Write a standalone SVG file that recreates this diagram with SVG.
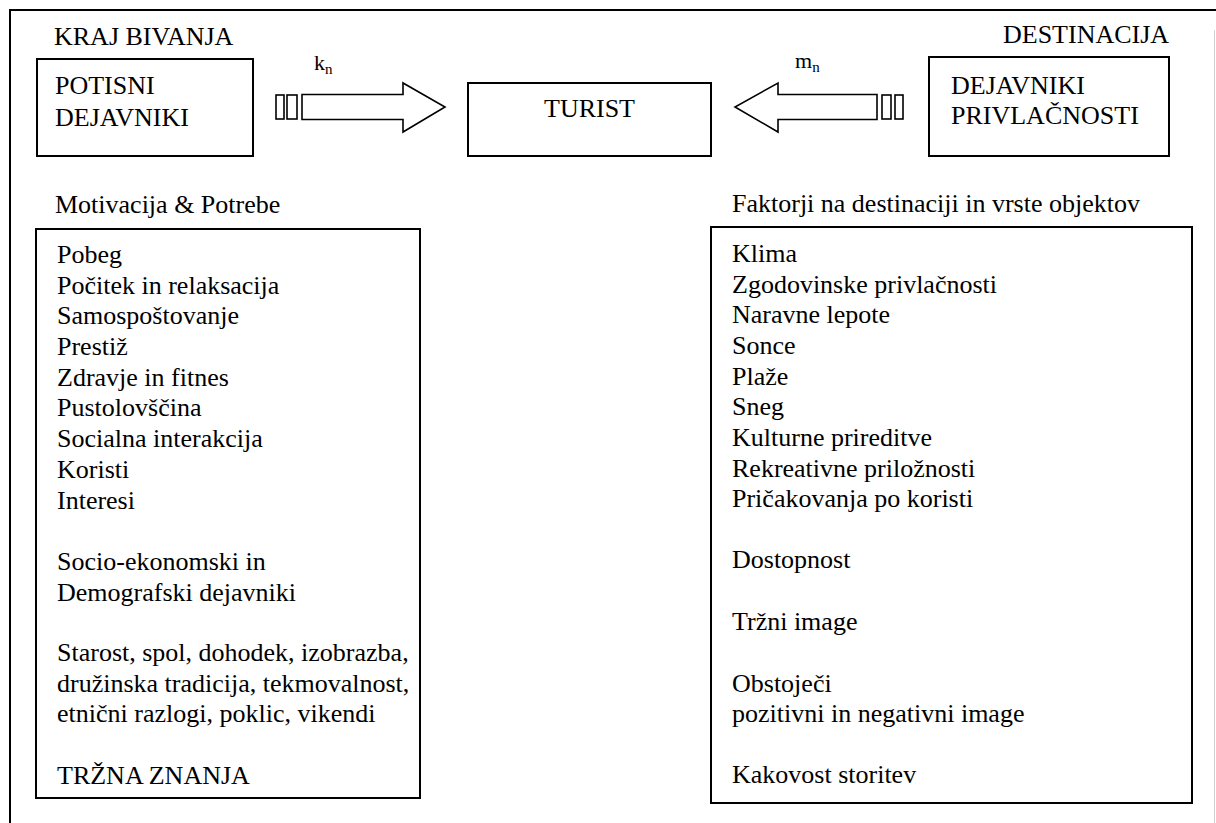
<svg xmlns="http://www.w3.org/2000/svg" width="1216" height="823" viewBox="0 0 1216 823" font-family="'Liberation Serif', 'Times New Roman', 'DejaVu Serif', serif">
  <style>
    text { font-family: "Liberation Serif", "Times New Roman", "DejaVu Serif", serif; font-size: 26px; fill: #000; }
    .box { fill: #fff; stroke: #000; stroke-width: 2; }
    .frame { fill: none; stroke: #000; stroke-width: 2; }
    .arrow { fill: #fff; stroke: #000; stroke-width: 1.6; stroke-linejoin: miter; }
    .sub { font-size: 15px; }
  </style>
  <rect x="0" y="0" width="1216" height="823" fill="#fff"/>

  <!-- outer frame: open on the right and bottom -->
  <path class="frame" d="M10,823 V10 H1216"/>
  <line x1="1214.5" y1="30" x2="1214.5" y2="823" stroke="#d0d0d0" stroke-width="1"/>

  <!-- headings -->
  <text x="54" y="45">KRAJ BIVANJA</text>
  <text x="1003" y="43">DESTINACIJA</text>

  <g id="push-factors">
    <rect class="box" x="37" y="59" width="216" height="97"/>
    <text x="55" y="94">POTISNI</text>
    <text x="55" y="126">DEJAVNIKI</text>
  </g>

  <g id="tourist">
    <rect class="box" x="468" y="83" width="243" height="73"/>
    <text x="589.5" y="117" text-anchor="middle">TURIST</text>
  </g>

  <g id="pull-factors">
    <rect class="box" x="929" y="57" width="240" height="99"/>
    <text x="951" y="94">DEJAVNIKI</text>
    <text x="951" y="124">PRIVLAČNOSTI</text>
  </g>

  <g id="connectors">
    <!-- push arrow k_n -->
    <rect class="arrow" x="276" y="95" width="8" height="24"/>
    <rect class="arrow" x="287" y="95" width="10" height="24"/>
    <path class="arrow" d="M302,94.5 H403 V83 L445,107 L403,132 V119.5 H302 Z"/>
    <text x="314" y="70" style="font-size:22px">k<tspan class="sub" dy="4">n</tspan></text>

    <!-- pull arrow m_n -->
    <path class="arrow" d="M877,94.5 H778 V83 L735,107 L778,132 V119.5 H877 Z"/>
    <rect class="arrow" x="882" y="95" width="9" height="24"/>
    <rect class="arrow" x="895" y="95" width="8" height="24"/>
    <text x="795" y="68" style="font-size:22px">m<tspan class="sub" dy="4">n</tspan></text>
  </g>

  <g id="motivation">
    <text x="55" y="213">Motivacija &amp; Potrebe</text>
    <rect class="box" x="36" y="229" width="384" height="569"/>
    <text x="57" y="263">Pobeg</text>
    <text x="57" y="294">Počitek in relaksacija</text>
    <text x="57" y="324">Samospoštovanje</text>
    <text x="57" y="355">Prestiž</text>
    <text x="57" y="386">Zdravje in fitnes</text>
    <text x="57" y="416">Pustolovščina</text>
    <text x="57" y="447">Socialna interakcija</text>
    <text x="57" y="478">Koristi</text>
    <text x="57" y="509">Interesi</text>
    <text x="57" y="570">Socio-ekonomski in</text>
    <text x="57" y="601">Demografski dejavniki</text>
    <text x="57" y="661">Starost, spol, dohodek, izobrazba,</text>
    <text x="57" y="692">družinska tradicija, tekmovalnost,</text>
    <text x="57" y="722">etnični razlogi, poklic, vikendi</text>
    <text x="57" y="784">TRŽNA ZNANJA</text>
  </g>

  <g id="destination-factors">
    <text x="732" y="212">Faktorji na destinaciji in vrste objektov</text>
    <rect class="box" x="711" y="227" width="481" height="576"/>
    <text x="732" y="262">Klima</text>
    <text x="732" y="293">Zgodovinske privlačnosti</text>
    <text x="732" y="323">Naravne lepote</text>
    <text x="732" y="354">Sonce</text>
    <text x="732" y="385">Plaže</text>
    <text x="732" y="415">Sneg</text>
    <text x="732" y="446">Kulturne prireditve</text>
    <text x="732" y="477">Rekreativne priložnosti</text>
    <text x="732" y="507">Pričakovanja po koristi</text>
    <text x="732" y="568">Dostopnost</text>
    <text x="732" y="630">Tržni image</text>
    <text x="732" y="692">Obstoječi</text>
    <text x="732" y="722">pozitivni in negativni  image</text>
    <text x="732" y="783">Kakovost storitev</text>
  </g>
</svg>
